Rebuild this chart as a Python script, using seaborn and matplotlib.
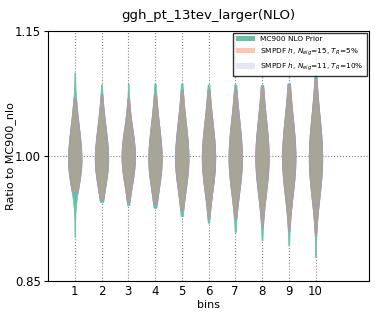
import numpy as np
import pandas as pd
import matplotlib
matplotlib.use("Agg")
import matplotlib.pyplot as plt
import seaborn as sns
from matplotlib.colors import to_rgba
from matplotlib.patches import Patch

bins = [1, 2, 3, 4, 5, 6, 7, 8, 9, 10]
series = ["MC900 NLO Prior",
          r"SMPDF $h$, $N_{eig}$=15, $T_R$=5%",
          r"SMPDF $h$, $N_{eig}$=11, $T_R$=10%"]

# body percentiles of the ratio per bin (shared by the three sets)
body_p02 = [0.960, 0.958, 0.960, 0.954, 0.950, 0.948, 0.946, 0.942, 0.940, 0.938]
body_p10 = [0.972, 0.971, 0.972, 0.968, 0.966, 0.964, 0.962, 0.960, 0.959, 0.957]
body_p25 = [0.985, 0.985, 0.985, 0.983, 0.982, 0.981, 0.980, 0.979, 0.978, 0.977]
body_p50 = [1.000, 1.000, 1.001, 1.000, 1.000, 1.000, 1.000, 1.000, 1.000, 1.000]
body_p75 = [1.021, 1.020, 1.018, 1.021, 1.022, 1.022, 1.023, 1.023, 1.024, 1.025]
body_p90 = [1.039, 1.038, 1.033, 1.040, 1.041, 1.041, 1.043, 1.044, 1.045, 1.047]
body_p98 = [1.058, 1.056, 1.052, 1.060, 1.062, 1.063, 1.065, 1.067, 1.069, 1.072]

# tail ends per set
prior_min = [0.903, 0.945, 0.941, 0.938, 0.928, 0.920, 0.909, 0.899, 0.893, 0.879]
prior_max = [1.100, 1.086, 1.087, 1.087, 1.087, 1.086, 1.086, 1.085, 1.087, 1.097]
s15_min = [0.958, 0.949, 0.947, 0.944, 0.937, 0.928, 0.928, 0.918, 0.913, 0.908]
s15_max = [1.068, 1.072, 1.068, 1.072, 1.077, 1.077, 1.078, 1.082, 1.084, 1.092]
s11_min = [0.956, 0.947, 0.945, 0.942, 0.935, 0.925, 0.925, 0.915, 0.910, 0.905]
s11_max = [1.070, 1.075, 1.070, 1.075, 1.080, 1.080, 1.080, 1.085, 1.087, 1.095]

# how many replicas each reading stands for: min, p02, p10, p25, p50, p75, p90, p98, max
counts = [1, 3, 6, 10, 13, 10, 6, 3, 1]

tails = {series[0]: (prior_min, prior_max),
         series[1]: (s15_min, s15_max),
         series[2]: (s11_min, s11_max)}

colors = ["#66c2a5", "#fc8d62", "#8da0cb"]
alphas = [1.0, 0.5, 0.25]

plt.rcParams["font.family"] = ["DejaVu Sans"]
fig = plt.figure(figsize=(3.75, 3.14), dpi=100)
ax = fig.add_axes([0.128, 0.105, 0.856, 0.796])
ax.grid(True, linestyle=":", color="gray", linewidth=0.8)
ax.set_axisbelow(True)

for name, color, alpha in zip(series, colors, alphas):
    lo, hi = tails[name]
    levels = [lo, body_p02, body_p10, body_p25, body_p50, body_p75, body_p90, body_p98, hi]
    rows = []
    for arr, n in zip(levels, counts):
        for b, v in zip(bins, arr):
            rows += [{"bins": b, "ratio": v}] * n
    df = pd.DataFrame(rows)
    before = len(ax.collections)
    sns.violinplot(data=df, x="bins", y="ratio", native_scale=True, color=color,
                   density_norm="width", width=0.5, cut=0, inner=None, bw_adjust=1.5,
                   saturation=1, linewidth=0.6, ax=ax)
    for coll in ax.collections[before:]:
        coll.set_facecolor(to_rgba(color, alpha))
        coll.set_edgecolor(to_rgba(color, 0.9))

ax.set_xlim(0, 12)
ax.set_ylim(0.85, 1.15)
ax.set_xticks(bins)
ax.set_yticks([0.85, 1.00, 1.15])
ax.set_yticklabels(["0.85", "1.00", "1.15"])
ax.tick_params(axis="y", labelsize=8.5, length=3, pad=2)
ax.tick_params(axis="x", labelsize=8.5, length=0, pad=3)
ax.set_xlabel("bins", fontsize=8, labelpad=1)
ax.set_ylabel("Ratio to MC900_nlo", fontsize=8)
ax.yaxis.set_label_coords(-0.10, 0.5)
ax.set_title("ggh_pt_13tev_larger(NLO)", fontsize=9.5, pad=9)

handles = [Patch(facecolor=to_rgba(c, a), edgecolor="none") for c, a in zip(colors, alphas)]
ax.legend(handles, series, loc="upper right", fontsize=5.3, frameon=True,
          fancybox=False, edgecolor="black", handlelength=2.5, borderaxespad=0.3)

fig.savefig("out.png", dpi=100)
